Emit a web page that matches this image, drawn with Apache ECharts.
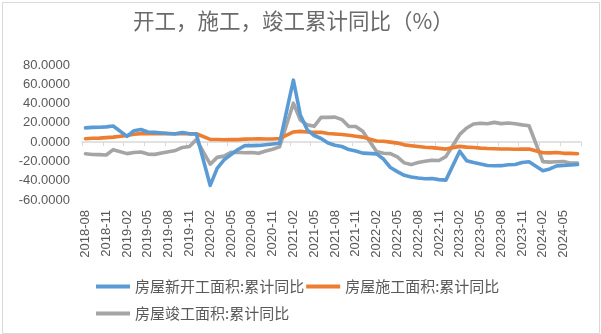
<!DOCTYPE html>
<html>
<head>
<meta charset="utf-8">
<script src="https://cdn.jsdelivr.net/npm/echarts@6/dist/echarts.min.js"></script>
<style>
html,body{margin:0;padding:0;background:#fff;}
#chart{width:601px;height:334px;}
</style>
</head>
<body>
<div id="chart"></div>
<script>
// Categories (monthly, Jan values not published -> null)
var months = [
  '2018-08','2018-09','2018-10','2018-11','2018-12',
  '2019-01','2019-02','2019-03','2019-04','2019-05','2019-06','2019-07','2019-08','2019-09','2019-10','2019-11','2019-12',
  '2020-01','2020-02','2020-03','2020-04','2020-05','2020-06','2020-07','2020-08','2020-09','2020-10','2020-11','2020-12',
  '2021-01','2021-02','2021-03','2021-04','2021-05','2021-06','2021-07','2021-08','2021-09','2021-10','2021-11','2021-12',
  '2022-01','2022-02','2022-03','2022-04','2022-05','2022-06','2022-07','2022-08','2022-09','2022-10','2022-11','2022-12',
  '2023-01','2023-02','2023-03','2023-04','2023-05','2023-06','2023-07','2023-08','2023-09','2023-10','2023-11','2023-12',
  '2024-01','2024-02','2024-03','2024-04','2024-05','2024-06','2024-07'
];
var seriesNames = ['房屋新开工面积:累计同比', '房屋施工面积:累计同比', '房屋竣工面积:累计同比'];
var newStart = [
  14.8, 15.3, 15.5, 15.8, 16.8,
  null, 6.0, 11.9, 13.1, 10.5, 10.1, 9.5, 8.9, 8.6, 10.0, 8.6, 8.5,
  null, -44.9, -27.2, -18.4, -12.8, -7.6, -3.6, -3.6, -3.4, -2.7, -2.0, -1.2,
  null, 64.3, 28.2, 12.8, 6.9, 3.8, -0.9, -3.2, -4.5, -7.7, -9.1, -11.4,
  null, -12.2, -17.5, -26.3, -30.6, -34.4, -36.1, -37.2, -38.0, -37.8, -38.9, -39.4,
  null, -9.4, -19.2, -21.2, -22.6, -24.3, -24.5, -24.4, -23.4, -23.2, -21.2, -20.4,
  null, -29.7, -27.8, -24.6, -24.2, -23.7, -23.2
];
var underConstruction = [
  3.6, 4.1, 4.2, 4.7, 5.2,
  null, 6.8, 8.2, 8.8, 8.8, 8.8, 9.0, 8.8, 8.7, 9.0, 8.7, 8.7,
  null, 2.9, 2.7, 2.5, 2.6, 2.6, 3.1, 3.3, 3.5, 3.2, 3.2, 3.7,
  null, 10.6, 11.2, 10.5, 10.1, 10.2, 9.0, 8.4, 7.9, 7.1, 6.1, 5.2,
  null, 1.2, 1.0, 0.0, -1.0, -2.8, -3.7, -4.5, -5.3, -5.7, -6.5, -7.2,
  null, -4.4, -5.2, -5.6, -6.2, -6.6, -6.8, -7.1, -7.1, -7.3, -7.2, -7.2,
  null, -11.0, -11.1, -10.8, -11.6, -11.6, -12.0
];
var completed = [
  -12.0, -12.8, -12.9, -13.3, -7.8,
  null, -11.9, -10.8, -10.3, -12.4, -12.7, -11.3, -10.0, -8.6, -5.5, -4.5, 2.6,
  null, -22.9, -15.8, -14.5, -10.6, -10.5, -11.0, -10.8, -11.6, -9.2, -7.3, -4.9,
  null, 40.4, 22.9, 17.9, 16.4, 25.7, 25.7, 25.9, 23.4, 16.3, 16.2, 11.2,
  null, -9.8, -11.5, -11.9, -15.3, -21.5, -23.3, -21.1, -19.9, -18.7, -19.0, -15.0,
  null, 8.0, 14.7, 18.8, 19.6, 19.0, 20.5, 19.2, 19.8, 19.0, 17.9, 17.0,
  null, -20.2, -20.7, -20.4, -20.1, -21.8, -21.8
];
var yMin = -60, yMax = 80, yStep = 20;

var colors = ['#5B9BD5', '#ED7D31', '#A5A5A5'];
var textColor = '#595959';
var fontCJK = '"Noto Sans CJK SC", "Noto Sans", sans-serif';

var chart = echarts.init(document.getElementById('chart'), null, {renderer: 'canvas'});

function mkSeries(name, data, color, z) {
  return {
    name: name, type: 'line', data: data, xAxisIndex: 0, yAxisIndex: 0,
    connectNulls: true, showSymbol: false, symbol: 'none', smooth: false,
    lineStyle: {color: color, width: 3.6, cap: 'round', join: 'round'},
    itemStyle: {color: color}, z: z, animation: false
  };
}

var option = {
  animation: false,
  color: colors,
  graphic: [{
    type: 'rect', left: 0, top: 0, silent: true,
    shape: {x: 0.5, y: 0.5, width: 597, height: 331},
    style: {fill: null, stroke: '#d9d9d9', lineWidth: 1}
  }],
  title: {
    text: '开工，施工，竣工累计同比（%）',
    left: 133, top: 10, padding: 0,
    textStyle: {fontSize: 21.5, fontWeight: 'normal', color: '#6a6a6a', fontFamily: fontCJK}
  },
  legend: [{
    data: [seriesNames[0], seriesNames[1]],
    left: 96, top: 279, padding: 0, itemGap: 2, itemWidth: 34, itemHeight: 4, icon: 'rect',
    textStyle: {fontSize: 15, color: textColor, fontFamily: fontCJK}
  }, {
    data: [seriesNames[2]],
    left: 96, top: 306, padding: 0, itemGap: 2, itemWidth: 34, itemHeight: 4, icon: 'rect',
    textStyle: {fontSize: 15, color: textColor, fontFamily: fontCJK}
  }],
  grid: {left: 82, right: 20, top: 65, bottom: 134, containLabel: false},
  xAxis: [{
    type: 'category', data: months, boundaryGap: true, position: 'bottom',
    axisLine: {show: false, onZero: false},
    axisTick: {show: false},
    axisLabel: {rotate: 90, interval: 2, margin: 10, fontSize: 13, color: textColor, fontFamily: '"Liberation Sans", Arial, sans-serif'},
    splitLine: {show: false}
  }, {
    type: 'category', data: months, boundaryGap: true, position: 'bottom',
    axisLine: {show: true, onZero: true, lineStyle: {color: '#d9d9d9', width: 1.5}},
    axisTick: {show: true, interval: 2, length: 4, lineStyle: {color: '#d9d9d9', width: 1}},
    axisLabel: {show: false},
    splitLine: {show: false}
  }],
  yAxis: {
    type: 'value', min: yMin, max: yMax, interval: yStep,
    axisLine: {show: false}, axisTick: {show: false},
    splitLine: {show: false},
    axisLabel: {
      margin: 12, fontSize: 13, color: textColor, fontFamily: '"Liberation Sans", Arial, sans-serif',
      formatter: function (v) { return v.toFixed(4); }
    }
  },
  series: [
    mkSeries(seriesNames[0], newStart, colors[0], 3),
    mkSeries(seriesNames[1], underConstruction, colors[1], 2),
    mkSeries(seriesNames[2], completed, colors[2], 1)
  ]
};
chart.setOption(option);
</script>
</body>
</html>
